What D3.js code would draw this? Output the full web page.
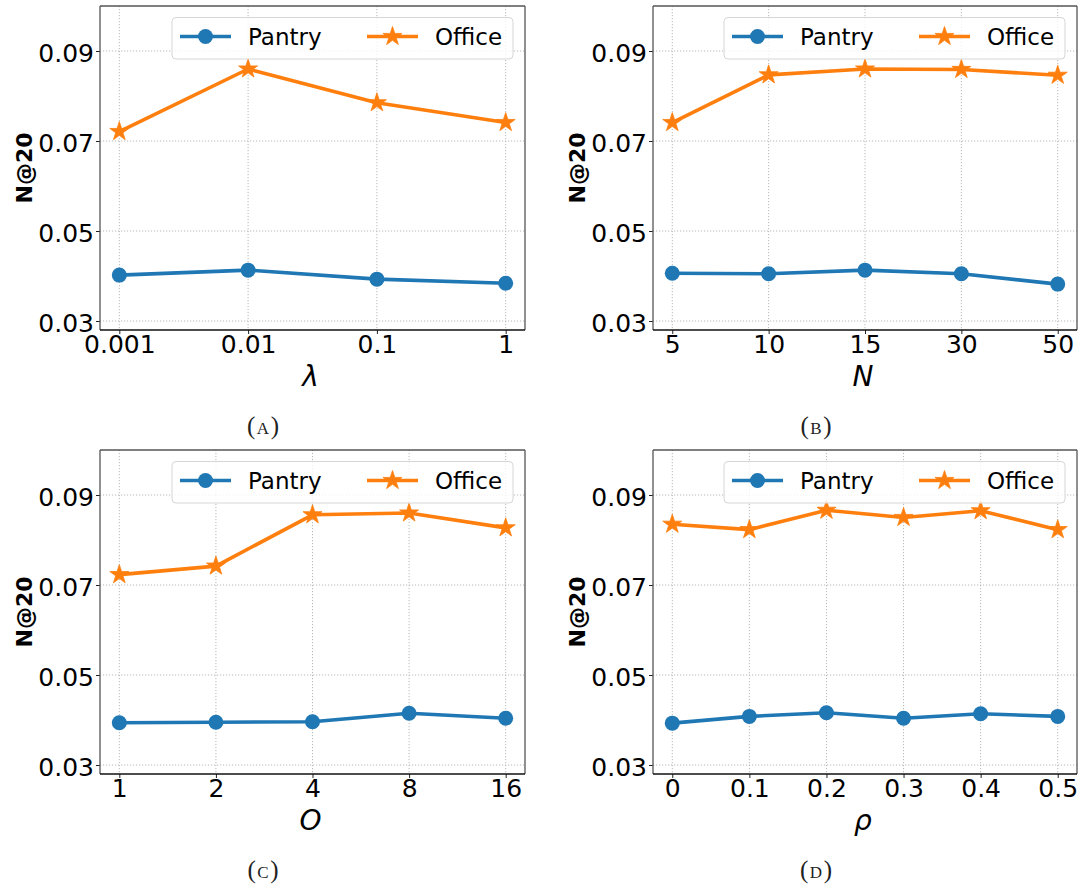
<!DOCTYPE html>
<html>
<head>
<meta charset="utf-8">
<script src="https://cdn.jsdelivr.net/npm/d3@7"></script>
<style>
  html, body { margin: 0; padding: 0; background: #fff; }
  svg { display: block; }
</style>
</head>
<body>
<svg id="fig" width="1083" height="889"></svg>
<script>
// Sensitivity of N@20 to four hyper-parameters, Pantry vs Office.
const seriesNames = ["Pantry", "Office"];
const seriesColors = ["#1f77b4", "#ff7f0e"];

const lambdaTicks = ["0.001", "0.01", "0.1", "1"];
const lambdaPantry = [0.0402, 0.0413, 0.0393, 0.0384];
const lambdaOffice = [0.0721, 0.0860, 0.0785, 0.0741];

const nTicks = ["5", "10", "15", "30", "50"];
const nPantry = [0.0406, 0.0405, 0.0413, 0.0405, 0.0382];
const nOffice = [0.0741, 0.0847, 0.0860, 0.0859, 0.0846];

const oTicks = ["1", "2", "4", "8", "16"];
const oPantry = [0.0394, 0.0395, 0.0396, 0.0415, 0.0404];
const oOffice = [0.0723, 0.0742, 0.0856, 0.0860, 0.0827];

const rhoTicks = ["0", "0.1", "0.2", "0.3", "0.4", "0.5"];
const rhoPantry = [0.0393, 0.0408, 0.0416, 0.0404, 0.0414, 0.0408];
const rhoOffice = [0.0835, 0.0823, 0.0866, 0.0850, 0.0865, 0.0823];

const yTicks = [0.03, 0.05, 0.07, 0.09];
const yDomain = [0.028, 0.1];

const panels = [
  { xLabel: "λ", caption: "A", cats: lambdaTicks, values: [lambdaPantry, lambdaOffice], left: 100, right: 525, top: 6, bottom: 330 },
  { xLabel: "N", caption: "B", cats: nTicks, values: [nPantry, nOffice], left: 653, right: 1077, top: 6, bottom: 330 },
  { xLabel: "O", caption: "C", cats: oTicks, values: [oPantry, oOffice], left: 100, right: 525, top: 450, bottom: 774 },
  { xLabel: "ρ", caption: "D", cats: rhoTicks, values: [rhoPantry, rhoOffice], left: 653, right: 1077, top: 450, bottom: 774 }
];

const svg = d3.select("#fig");
const SANS = "'DejaVu Sans', sans-serif";

function starPath(R) {
  const r = R * 0.381966;
  const pts = [];
  for (let i = 0; i < 10; i++) {
    const a = -Math.PI / 2 + i * Math.PI / 5;
    const rad = i % 2 === 0 ? R : r;
    pts.push([rad * Math.cos(a), rad * Math.sin(a)]);
  }
  return "M" + pts.map(p => p[0].toFixed(2) + "," + p[1].toFixed(2)).join("L") + "Z";
}

function drawMarker(g, k, x, y) {
  if (k === 0) {
    g.append("circle").attr("cx", x).attr("cy", y).attr("r", 7.5)
      .attr("fill", seriesColors[0]);
  } else {
    g.append("path").attr("d", starPath(10)).attr("transform", `translate(${x},${y})`)
      .attr("fill", seriesColors[1]).attr("stroke", seriesColors[1]).attr("stroke-width", 0.8)
      .attr("stroke-linejoin", "miter");
  }
}

panels.forEach(p => {
  const n = p.cats.length;
  const x = d3.scalePoint().domain(p.cats).range([p.left, p.right]).padding(0.05 * (n - 1));
  const y = d3.scaleLinear().domain(yDomain).range([p.bottom, p.top]);
  const g = svg.append("g");

  // grid
  const grid = g.append("g").attr("stroke", "#b8b8b8").attr("stroke-width", 1)
    .attr("stroke-dasharray", "1.2,1.8");
  p.cats.forEach(c => grid.append("line").attr("x1", x(c)).attr("x2", x(c))
    .attr("y1", p.top).attr("y2", p.bottom));
  yTicks.forEach(t => grid.append("line").attr("x1", p.left).attr("x2", p.right)
    .attr("y1", y(t)).attr("y2", y(t)));

  // x axis
  const xa = g.append("g").attr("transform", `translate(0,${p.bottom})`)
    .call(d3.axisBottom(x).tickSize(4).tickPadding(0));
  xa.select(".domain").remove();
  xa.selectAll(".tick line").attr("stroke", "#222").attr("stroke-width", 1);
  xa.selectAll(".tick text").attr("font-family", SANS).attr("font-size", 25)
    .attr("fill", "#000").attr("dy", null).attr("y", 23);

  // y axis
  const ya = g.append("g").attr("transform", `translate(${p.left},0)`)
    .call(d3.axisLeft(y).tickValues(yTicks).tickFormat(d3.format(".2f")).tickSize(4).tickPadding(0));
  ya.select(".domain").remove();
  ya.selectAll(".tick line").attr("stroke", "#222").attr("stroke-width", 1);
  ya.selectAll(".tick text").attr("font-family", SANS).attr("font-size", 25)
    .attr("fill", "#000").attr("dy", null).attr("x", -6).attr("y", 10);

  // spines
  g.append("line").attr("x1", p.left).attr("x2", p.left).attr("y1", p.top).attr("y2", p.bottom)
    .attr("stroke", "#555").attr("stroke-width", 1.3);
  g.append("line").attr("x1", p.right).attr("x2", p.right).attr("y1", p.top).attr("y2", p.bottom)
    .attr("stroke", "#555").attr("stroke-width", 1.3);
  g.append("line").attr("x1", p.left).attr("x2", p.right).attr("y1", p.top).attr("y2", p.top)
    .attr("stroke", "#555").attr("stroke-width", 1.3);
  g.append("line").attr("x1", p.left).attr("x2", p.right).attr("y1", p.bottom).attr("y2", p.bottom)
    .attr("stroke", "#111").attr("stroke-width", 1.5);

  // series
  p.values.forEach((vals, k) => {
    const line = d3.line().x((d, i) => x(p.cats[i])).y(d => y(d));
    g.append("path").datum(vals).attr("d", line).attr("fill", "none")
      .attr("stroke", seriesColors[k]).attr("stroke-width", 3.6).attr("stroke-linejoin", "round");
    vals.forEach((v, i) => drawMarker(g, k, x(p.cats[i]), y(v)));
  });

  // legend
  const lx = p.right - 353, ly = p.top + 11.5;
  const lg = g.append("g").attr("transform", `translate(${lx},${ly})`);
  lg.append("rect").attr("x", 0).attr("y", 0).attr("width", 341).attr("height", 41.5)
    .attr("rx", 4).attr("fill", "#fff").attr("fill-opacity", 0.8)
    .attr("stroke", "#d6d6d6").attr("stroke-width", 1);
  const items = [{ hx: 8, tx: 76 }, { hx: 195, tx: 263 }];
  items.forEach((it, k) => {
    lg.append("line").attr("x1", it.hx).attr("x2", it.hx + 51).attr("y1", 19).attr("y2", 19)
      .attr("stroke", seriesColors[k]).attr("stroke-width", 3.6);
    drawMarker(lg, k, it.hx + 25.5, 19);
    lg.append("text").attr("x", it.tx).attr("y", 27).attr("font-family", SANS)
      .attr("font-size", 23).attr("fill", "#000").text(seriesNames[k]);
  });

  // axis titles
  g.append("text").attr("transform", `translate(${p.left - 68},${(p.top + p.bottom) / 2}) rotate(-90)`)
    .attr("text-anchor", "middle").attr("font-family", SANS).attr("font-weight", "bold")
    .attr("font-size", 22).attr("fill", "#000").text("N@20");
  g.append("text").attr("x", (p.left + p.right) / 2 - 2).attr("y", p.bottom + 56)
    .attr("text-anchor", "middle").attr("font-family", SANS).attr("font-style", "italic")
    .attr("font-size", 28).attr("fill", "#000").text(p.xLabel);

  // sub-figure caption, small-caps letter inside parentheses
  const cap = g.append("text").attr("x", p.left + 163).attr("y", p.bottom + 104)
    .attr("text-anchor", "middle").attr("font-family", "'Liberation Serif', serif")
    .attr("font-size", 25).attr("fill", "#222");
  cap.append("tspan").text("(");
  cap.append("tspan").attr("font-size", 17).attr("dx", 1.5).text(p.caption);
  cap.append("tspan").attr("dx", 1.5).text(")");
});
</script>
</body>
</html>
